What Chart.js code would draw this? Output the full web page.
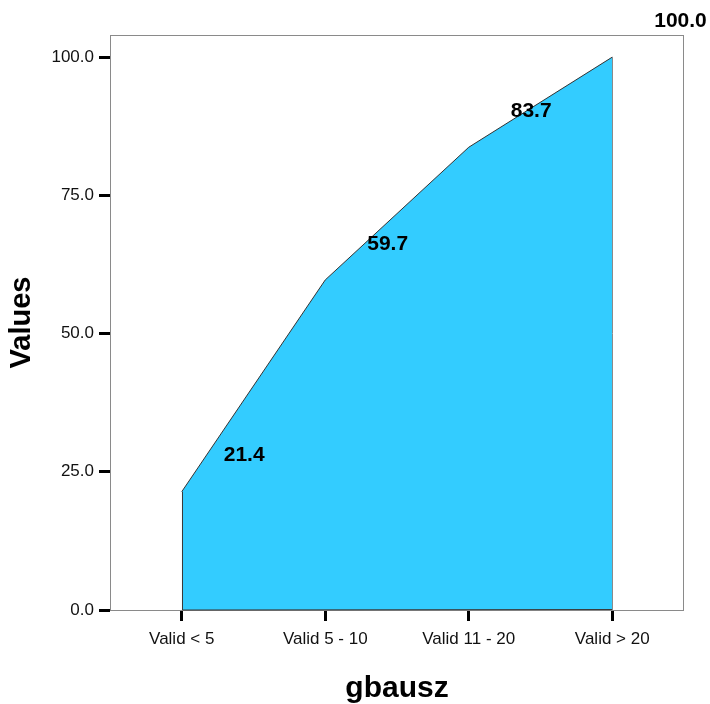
<!DOCTYPE html>
<html>
<head>
  <title>gbausz</title>
  <script src="https://cdn.jsdelivr.net/npm/chart.js@4"></script>
  <style>
    body { margin: 0; background: #fff; }
    #wrap { width: 710px; height: 704px; }
  </style>
</head>
<body>
<div id="wrap"><canvas id="chart" width="710" height="704"></canvas></div>
<script>
  const categories = ['Valid < 5', 'Valid 5 - 10', 'Valid 11 - 20', 'Valid > 20'];
  const values = [21.4, 59.7, 83.7, 100.0];
  const yTicks = [0, 25, 50, 75, 100];
  const yMax = 104;

  const FONT = '"Liberation Sans", Arial, sans-serif';

  // frame, edges of the area and the value labels
  const decor = {
    id: 'decor',
    beforeDraw(chart) {
      const ctx = chart.ctx;
      ctx.save();
      ctx.fillStyle = '#fff';
      ctx.fillRect(0, 0, chart.width, chart.height);
      ctx.restore();
    },
    beforeDatasetsDraw(chart) {
      const a = chart.chartArea, ctx = chart.ctx;
      ctx.save();
      ctx.strokeStyle = '#8a8a8a';
      ctx.lineWidth = 1;
      ctx.strokeRect(a.left + 0.5, a.top + 0.5, a.right - a.left - 1, a.bottom - a.top);
      ctx.restore();
    },
    afterDatasetsDraw(chart) {
      const ctx = chart.ctx;
      const pts = chart.getDatasetMeta(0).data;
      const y0 = chart.scales.y.getPixelForValue(0);
      const first = pts[0], last = pts[pts.length - 1];
      ctx.save();
      ctx.lineWidth = 1;
      ctx.strokeStyle = '#3a3a3a';
      ctx.beginPath();
      ctx.moveTo(Math.round(first.x) + 0.5, first.y);
      ctx.lineTo(Math.round(first.x) + 0.5, y0);
      ctx.lineTo(last.x, y0 - 0.5);
      ctx.stroke();
      ctx.strokeStyle = '#8a8a8a';
      ctx.beginPath();
      ctx.moveTo(Math.round(last.x) + 0.5, last.y);
      ctx.lineTo(Math.round(last.x) + 0.5, y0);
      ctx.stroke();

      ctx.fillStyle = '#000';
      ctx.font = 'bold 21px ' + FONT;
      ctx.textAlign = 'left';
      ctx.textBaseline = 'middle';
      pts.forEach((p, i) => {
        ctx.fillText(values[i].toFixed(1), p.x + 42, p.y - 36);
      });
      ctx.restore();
    }
  };

  new Chart(document.getElementById('chart'), {
    type: 'line',
    data: {
      labels: categories,
      datasets: [{
        data: values,
        fill: 'origin',
        backgroundColor: '#33ccff',
        borderColor: '#333333',
        borderWidth: 1,
        pointRadius: 0,
        tension: 0
      }]
    },
    options: {
      responsive: false,
      animation: false,
      layout: {padding: {top: 35, right: 26, left: 0, bottom: 0}},
      plugins: {legend: {display: false}, tooltip: {enabled: false}},
      scales: {
        x: {
          type: 'category',
          offset: true,
          border: {display: false},
          grid: {drawOnChartArea: false, tickLength: 11, tickWidth: 3, tickColor: '#000'},
          ticks: {color: '#111', font: {family: FONT, size: 17}, padding: 8, maxRotation: 0},
          title: {display: true, text: 'gbausz', color: '#000',
                  font: {family: FONT, size: 30, weight: 'bold', lineHeight: 1}, padding: {top: 0, bottom: 0}},
          afterFit: s => { s.height = 94; }
        },
        y: {
          min: 0,
          max: yMax,
          border: {display: false},
          grid: {drawOnChartArea: false, tickLength: 11, tickWidth: 3, tickColor: '#000'},
          afterBuildTicks: s => { s.ticks = yTicks.map(v => ({value: v})); },
          ticks: {color: '#111', font: {family: FONT, size: 17}, padding: 5,
                  callback: v => Number(v).toFixed(1)},
          title: {display: true, text: 'Values', color: '#000',
                  font: {family: FONT, size: 29, weight: 'bold'}, padding: {top: 5, bottom: 0}},
          afterFit: s => { s.width = 110; }
        }
      }
    },
    plugins: [decor]
  });
</script>
</body>
</html>
